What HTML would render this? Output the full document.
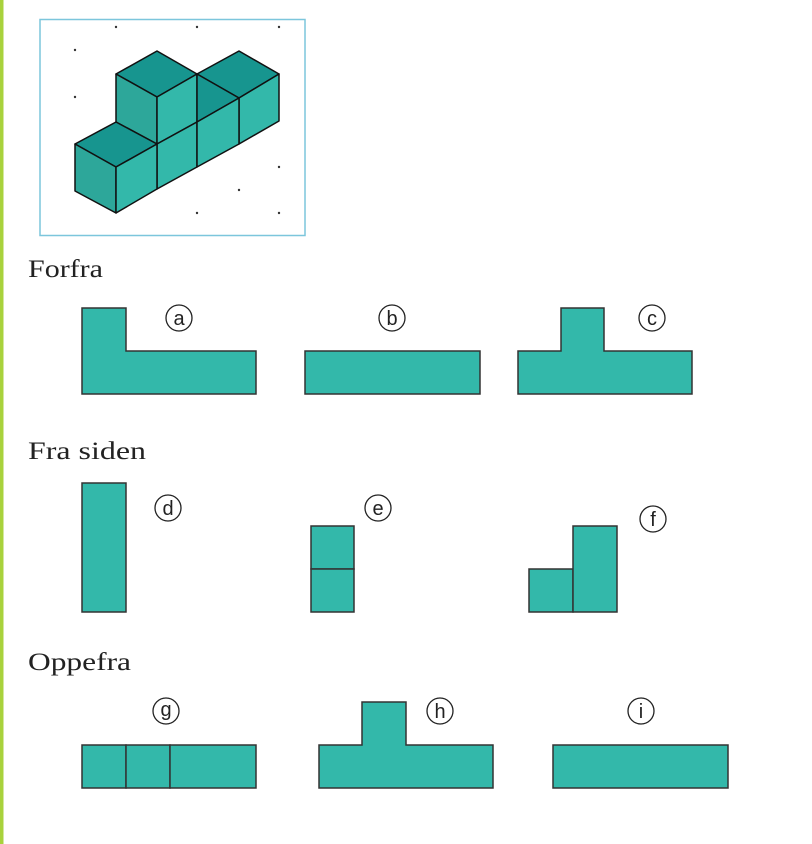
<!DOCTYPE html>
<html><head><meta charset="utf-8"><style>
html,body{margin:0;padding:0;background:#fff;width:812px;height:844px;overflow:hidden}
svg{display:block}
</style></head><body>
<svg width="812" height="844" viewBox="0 0 812 844" xmlns="http://www.w3.org/2000/svg">
<rect x="0" y="0" width="3.5" height="844" fill="#a8d23c"/>
<rect x="40" y="19.5" width="265" height="216" fill="#fff" stroke="#7cc6dc" stroke-width="1.5"/>
<g fill="#333">
<circle cx="116" cy="27" r="1.2"/><circle cx="197" cy="27" r="1.2"/><circle cx="279" cy="27" r="1.2"/>
<circle cx="75" cy="50" r="1.2"/><circle cx="75" cy="97" r="1.2"/>
<circle cx="279" cy="167" r="1.2"/><circle cx="239" cy="190" r="1.2"/>
<circle cx="197" cy="213" r="1.2"/><circle cx="279" cy="213" r="1.2"/>
</g>
<g stroke="#111" stroke-width="1.5" stroke-linejoin="round">
<!-- upper left cube -->
<polygon points="116,74 157,51 197,74 157,97" fill="#17958f"/>
<polygon points="116,74 157,97 157,144 116,122" fill="#2da79a"/>
<polygon points="157,97 197,74 197,122 157,144" fill="#33b8aa"/>
<!-- upper right cube -->
<polygon points="197,74 239,51 279,74 239,98" fill="#17958f"/>
<polygon points="239,98 279,74 279,121 239,144" fill="#33b8aa"/>
<polygon points="197,74 239,98 197,122" fill="#17958f"/>
<!-- lower middle cubes fronts -->
<polygon points="157,144 197,122 197,167 157,189" fill="#33b8aa"/>
<polygon points="197,122 239,98 239,144 197,167" fill="#33b8aa"/>
<!-- left cube -->
<polygon points="75,144 116,122 157,144 116,167" fill="#17958f"/>
<polygon points="75,144 116,167 116,213 75,191" fill="#2da79a"/>
<polygon points="116,167 157,144 157,189 116,213" fill="#33b8aa"/>
</g>
<g font-family="Liberation Serif, serif" font-size="25" fill="#222">
<text x="28" y="277" textLength="75" lengthAdjust="spacingAndGlyphs">Forfra</text>
<text x="28" y="459" textLength="118" lengthAdjust="spacingAndGlyphs">Fra siden</text>
<text x="28" y="670" textLength="103" lengthAdjust="spacingAndGlyphs">Oppefra</text>
</g>
<g fill="#33b8aa" stroke="#333" stroke-width="1.5">
<polygon points="82,308 126,308 126,351 256,351 256,394 82,394"/>
<rect x="305" y="351" width="175" height="43"/>
<polygon points="518,351 561,351 561,308 604,308 604,351 692,351 692,394 518,394"/>
<rect x="82" y="483" width="44" height="129"/>
<rect x="311" y="526" width="43" height="43"/><rect x="311" y="569" width="43" height="43"/>
<rect x="529" y="569" width="44" height="43"/><rect x="573" y="526" width="44" height="86"/>
<rect x="82" y="745" width="44" height="43"/><rect x="126" y="745" width="44" height="43"/><rect x="170" y="745" width="86" height="43"/>
<polygon points="319,745 362,745 362,702 406,702 406,745 493,745 493,788 319,788"/>
<rect x="553" y="745" width="175" height="43"/>
</g>
<g fill="none" stroke="#222" stroke-width="1.3">
<circle cx="179" cy="318" r="13"/><circle cx="392" cy="318" r="13"/><circle cx="652" cy="318" r="13"/>
<circle cx="168" cy="508" r="13"/><circle cx="378" cy="508" r="13"/><circle cx="653" cy="519" r="13"/>
<circle cx="166" cy="711" r="13"/><circle cx="440" cy="711" r="13"/><circle cx="641" cy="711" r="13"/>
</g>
<g font-family="Liberation Sans, sans-serif" font-size="20" fill="#222" text-anchor="middle">
<text x="179" y="325">a</text><text x="392" y="325">b</text><text x="652" y="325">c</text>
<text x="168" y="515">d</text><text x="378" y="515">e</text><text x="653" y="526">f</text>
<text x="166" y="716">g</text><text x="440" y="718">h</text><text x="641" y="718">i</text>
</g>
</svg>
</body></html>
